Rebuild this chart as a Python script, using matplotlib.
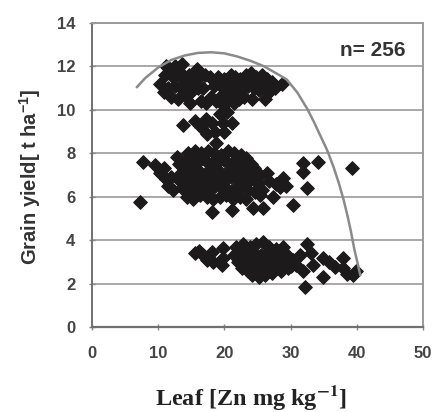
import numpy as np
import matplotlib
matplotlib.use("Agg")
from matplotlib import pyplot as plt

plt.rcParams['mathtext.fontset'] = 'custom'
plt.rcParams['mathtext.bf'] = 'Liberation Sans:bold'
plt.rcParams['mathtext.rm'] = 'Liberation Sans'

# データ
x_top = [10.3, 11.0, 11.8, 12.5, 13.2, 12.2, 13.8, 14.6, 15.4, 16.2, 17.0, 11.5, 12.5, 13.4, 14.3,
         15.2, 16.0, 10.8, 12.0, 13.0, 14.0, 15.0, 16.8, 18.4, 19.2, 20.0, 20.8, 21.6, 22.4, 23.2,
         24.0, 24.8, 25.6, 26.4, 27.2, 18.0, 18.8, 19.6, 20.4, 21.2, 22.0, 22.8, 23.6, 24.4, 25.2,
         26.0, 26.8, 19.8, 20.6, 21.4, 22.2, 23.0, 24.2, 17.2, 16.4, 28.7, 26.1, 14.8, 21.0, 19.0,
         11.2, 13.6, 15.8, 17.8, 23.8, 25.4, 27.6]
y_top = [11.2, 11.6, 11.9, 12.0, 11.8, 11.5, 11.4, 11.6, 11.7, 11.5, 11.6, 11.0, 11.1, 11.0, 11.1,
         11.2, 11.0, 10.8, 10.6, 10.5, 10.7, 10.8, 11.0, 11.1, 11.2, 11.4, 11.2, 11.5, 11.4, 11.6,
         11.7, 11.5, 11.6, 11.4, 11.3, 10.6, 10.4, 10.7, 10.9, 10.8, 10.9, 11.0, 11.1, 11.0, 10.9,
         11.0, 10.8, 10.2, 10.4, 10.3, 10.5, 10.6, 10.5, 10.3, 10.4, 11.2, 10.5, 10.3, 11.6, 11.5,
         12.0, 12.1, 11.9, 11.5, 11.3, 11.2, 11.0]

x_sub = [13.8, 15.6, 16.5, 17.4, 18.1, 18.8, 19.8, 20.4, 21.1, 18.6, 20.0, 17.2, 19.3]
y_sub = [9.3, 9.5, 9.2, 8.9, 9.4, 8.45, 9.4, 9.9, 9.4, 9.0, 9.0, 9.6, 9.8]

x_mid = [7.2, 7.7, 9.5, 10.3, 11.5, 10.8, 12.0, 12.8, 11.2, 12.3,
         14.5, 15.5, 16.5, 17.5, 18.5, 19.5, 20.5, 21.5, 22.5, 23.3,
         13.2, 14.0, 15.0, 16.0, 17.0, 18.0, 19.0, 20.0, 21.0, 22.0, 23.0, 24.0,
         13.5, 14.5, 15.5, 16.5, 17.5, 18.5, 19.5, 20.5, 21.5, 22.5, 23.5, 24.5, 25.3,
         13.0, 14.0, 15.0, 16.0, 17.0, 18.0, 19.0, 20.0, 21.0, 22.0, 23.0, 24.0, 25.0,
         13.6, 14.6, 15.6, 16.6, 17.6, 18.6, 19.6, 20.6, 21.6, 22.6, 23.6, 24.6,
         14.3, 15.3, 16.3, 17.3, 18.3, 19.3, 20.3, 21.3, 22.3, 23.3,
         18.1, 21.1, 24.3, 25.8, 30.4,
         26.4, 25.7, 27.3, 25.4, 28.9, 28.4, 29.3, 27.8, 32.5, 31.9, 31.9, 34.1, 39.3, 26.8]
y_mid = [5.75, 7.6, 7.45, 7.1, 6.5, 7.3, 6.9, 7.85, 6.8, 6.3,
         8.0, 8.1, 8.0, 8.1, 8.0, 7.9, 8.1, 8.0, 7.9, 7.8,
         7.5, 7.6, 7.7, 7.6, 7.7, 7.5, 7.6, 7.7, 7.5, 7.6, 7.4, 7.5,
         7.1, 7.2, 7.3, 7.1, 7.2, 7.3, 7.1, 7.2, 7.3, 7.1, 7.2, 7.3, 7.0,
         6.8, 6.7, 6.9, 6.8, 6.7, 6.9, 6.8, 6.7, 6.9, 6.8, 6.7, 6.8, 6.6,
         6.4, 6.3, 6.5, 6.4, 6.3, 6.5, 6.4, 6.3, 6.4, 6.5, 6.3, 6.2,
         6.0, 5.9, 6.1, 6.0, 5.9, 6.0, 6.1, 5.9, 6.0, 5.9,
         5.3, 5.4, 5.5, 5.5, 5.6,
         7.1, 6.3, 6.0, 6.1, 6.85, 6.45, 6.5, 6.6, 6.4, 7.55, 7.15, 7.6, 7.3, 6.7]

x_low = [15.6, 16.8, 18.1, 19.8, 19.8, 18.3, 19.6, 17.4, 16.2,
         21.8, 22.8, 23.8, 24.8, 25.8, 26.8, 27.8, 28.8,
         21.5, 22.5, 23.5, 24.5, 25.5, 26.5, 27.5, 28.5, 29.5, 30.3,
         22.0, 23.0, 24.0, 25.0, 26.0, 27.0, 28.0, 29.0, 30.0,
         22.6, 23.6, 24.6, 25.6, 26.6, 27.6, 28.6, 29.6,
         24.2, 25.2, 26.2, 27.2,
         32.5, 34.9, 34.9, 32.2, 37.9, 37.9, 39.4, 39.8, 36.7, 33.4, 31.4, 30.8, 33.0, 35.8, 31.8, 38.5]
y_low = [3.4, 3.3, 3.45, 3.65, 3.2, 3.0, 2.85, 3.1, 3.5,
         3.7, 3.8, 3.7, 3.8, 3.9, 3.7, 3.6, 3.7,
         3.3, 3.4, 3.3, 3.4, 3.3, 3.4, 3.3, 3.2, 3.3, 3.1,
         3.0, 2.9, 3.0, 3.1, 2.9, 3.0, 2.9, 3.0, 2.8,
         2.7, 2.6, 2.7, 2.6, 2.7, 2.8, 2.6, 2.7,
         2.4, 2.3, 2.4, 2.5,
         3.8, 3.2, 2.3, 1.85, 3.2, 2.7, 2.4, 2.6, 2.75, 2.85, 3.3, 2.85, 3.4, 3.0, 2.6, 2.45]

# 境界線
curve_x = [6.8, 8.0, 10.0, 12.0, 14.0, 16.0, 18.0, 20.0, 22.0, 24.0, 26.0, 28.0, 29.4,
           31.0, 32.5, 33.5, 34.5, 35.5, 36.5, 37.3, 38.0, 38.6, 39.1, 39.6, 40.1, 40.5]
curve_y = [11.05, 11.45, 11.95, 12.3, 12.5, 12.62, 12.65, 12.6, 12.45, 12.25, 12.0, 11.65, 11.4,
           10.8, 10.05, 9.45, 8.8, 8.15, 7.35, 6.6, 5.85, 5.1, 4.4, 3.6, 2.95, 2.4]

yticks = [0, 2, 4, 6, 8, 10, 12, 14]
xticks = [0, 10, 20, 30, 40, 50]

fig = plt.figure(figsize=(4.38, 4.12), dpi=100)
ax = fig.add_axes([0.21, 0.2063, 0.756, 0.738])

for yv in yticks[1:-1]:
    ax.axhline(yv, color="#a8a8a8", lw=1.4, zorder=1)

xs = x_top + x_sub + x_mid + x_low
ys = y_top + y_sub + y_mid + y_low
ax.scatter(xs, ys, marker="D", s=48, color="#1c1a1a", edgecolors="#1c1a1a", linewidths=0.8, zorder=3)

ax.plot(curve_x, curve_y, color="#8a8a8a", lw=1.8, zorder=4)

ax.text(47.3, 12.75, "n= 256", ha="right", va="center", fontsize=15, fontweight="bold",
        family="Liberation Sans", color="#333333")

ax.set_xlim(0, 50)
ax.set_ylim(0, 14)
ax.set_xticks(xticks)
ax.set_yticks(yticks)
ax.tick_params(axis="both", labelsize=12, colors="#888888", labelcolor="#444444", length=4, width=1, direction="inout")
ax.tick_params(axis="x", pad=12)
ax.tick_params(axis="y", pad=10)
for lab in ax.get_xticklabels() + ax.get_yticklabels():
    lab.set_fontweight("bold")
    lab.set_family("Liberation Sans")

for sp in ["top", "right"]:
    ax.spines[sp].set_color("#9a9a9a")
    ax.spines[sp].set_linewidth(1.4)
ax.spines["left"].set_color("#707070")
ax.spines["left"].set_linewidth(1.4)
ax.spines["bottom"].set_color("#707070")
ax.spines["bottom"].set_linewidth(1.6)

fig.text(0.068, 0.57, r"Grain yield[ t ha$^{\mathbf{-1}}$]", rotation=90, ha="center", va="center",
         fontsize=14.5, fontweight="bold", family="Liberation Sans", color="#333333")
fig.text(0.573, 0.034, r"Leaf [Zn mg kg$^{\mathbf{-1}}$]", ha="center", va="center",
         fontsize=17.5, fontweight="bold", family="Liberation Serif", math_fontfamily="stix", color="#222222")

fig.savefig("out.png", dpi=100)
plt.close()
